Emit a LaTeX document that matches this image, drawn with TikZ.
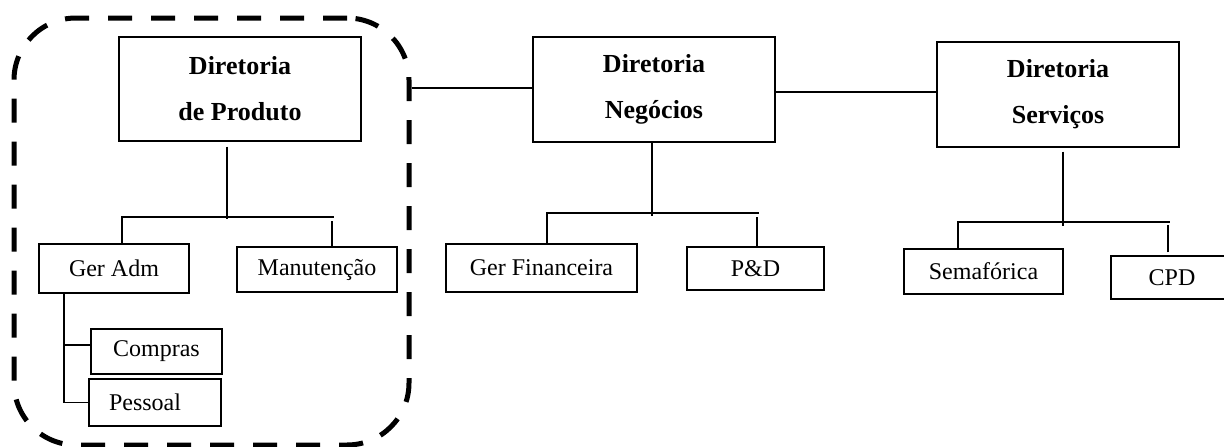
\documentclass[tikz,border=0pt]{standalone}
\usepackage{fontspec}
\setmainfont{Liberation Serif}
\begin{document}
\begin{tikzpicture}[x=1pt,y=-1pt,
  box/.style={draw, line width=1.3pt, inner sep=0pt, font=\fontsize{24}{28}\selectfont},
  headbox/.style={box, align=center, font=\fontsize{26}{46}\selectfont\bfseries},
  link/.style={line width=1.2pt},
  group/.style={draw, line width=5pt, dash pattern=on 24pt off 19pt, rounded corners=62pt, inner sep=0pt}]
\useasboundingbox (0,0) rectangle (1224,447);
\clip (0,0) rectangle (1224,447);

% directorates
\node[headbox, minimum width=242pt, minimum height=104pt] (prod) at (240,89) {Diretoria\\de Produto};
\node[headbox, minimum width=242pt, minimum height=105pt] (neg) at (654,89.5) {Diretoria\\Negócios};
\node[headbox, minimum width=242pt, minimum height=105pt] (serv) at (1058,94.5) {Diretoria\\Serviços};

% departments
\node[box, minimum width=150pt, minimum height=49pt] (geradm) at (114,268.5) {Ger Adm};
\node[box, minimum width=160pt, minimum height=45pt] (manut) at (317,269.5) {Manutenção};
\node[box, minimum width=131pt, minimum height=45pt] (compras) at (156.5,351.5) {Compras};
\node[box, minimum width=132pt, minimum height=47pt] (pessoal) at (155,402.5) {Pessoal\hspace*{20pt}};
\node[box, minimum width=191pt, minimum height=48pt] (gerfin) at (541.5,268) {Ger Financeira};
\node[box, minimum width=137pt, minimum height=43pt] (pd) at (755.5,268.5) {P\&D};
\node[box, minimum width=159pt, minimum height=45pt] (semaf) at (983.5,271.5) {Semafórica};
\node[box, minimum width=128pt, minimum height=43pt] (cpd) at (1175,277.5) {\hspace*{-6pt}CPD};

% dashed group around the product directorate
\node[group, minimum width=395pt, minimum height=427pt] (grp) at (211.5,231.5) {};

% links between directorates
\draw[link] (grp.east |- 0,88) -- (neg.west |- 0,88);
\draw[link] (neg.east |- 0,92) -- (serv.west |- 0,92);

% product tree
\draw[link] (prod.south -| 227,0) ++(0,5) -- (227,219);
\draw[link] (geradm.north -| 122,0) |- (334,217);
\draw[link] (manut.north -| 332,0) -- (332,221);
\draw[link] (geradm.south -| 64,0) |- (pessoal.west);
\draw[link] (64,345) -- (compras.west |- 0,345) ++(-4,0);

% business tree
\draw[link] (neg.south -| 652,0) -- (652,216);
\draw[link] (gerfin.north -| 547,0) |- (759,213);
\draw[link] (pd.north -| 757,0) -- (757,217);

% services tree
\draw[link] (serv.south -| 1063,0) ++(0,4) -- (1063,226);
\draw[link] (semaf.north -| 958,0) |- (1170,222);
\draw[link] (cpd.north -| 1168,0) ++(0,-3) -- (1168,225);
\end{tikzpicture}
\end{document}
